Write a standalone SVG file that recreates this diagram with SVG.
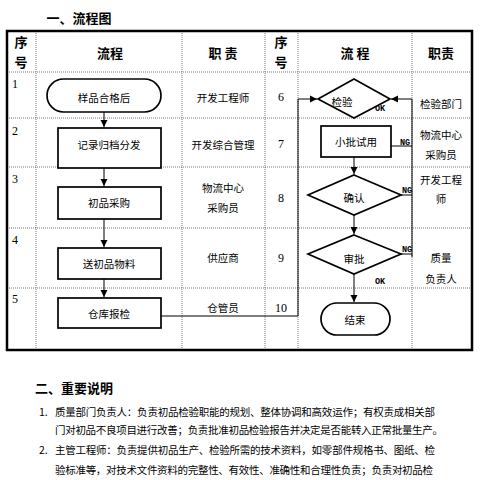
<svg xmlns="http://www.w3.org/2000/svg" width="480" height="480" viewBox="0 0 480 480">
<style>
.t{font-family:"Noto Sans CJK SC","Liberation Sans",sans-serif;font-size:10.5px;fill:#000;text-anchor:middle}
.h{font-family:"Noto Sans CJK SC","Liberation Sans",sans-serif;font-size:13px;font-weight:bold;fill:#000;text-anchor:middle}
.n{font-family:"Liberation Serif",serif;font-size:12px;fill:#000}
.s{font-family:"Liberation Mono",monospace;font-size:8.5px;font-weight:bold;fill:#000}
.p{font-family:"Noto Sans CJK SC","Liberation Sans",sans-serif;font-size:10.5px;fill:#000}
.grid{stroke:#555;stroke-width:0.8;stroke-dasharray:1 1;fill:none}
.box{fill:#fff;stroke:#000;stroke-width:1.7}
.c{fill:none;stroke:#000;stroke-width:1}
</style>
<defs>
<marker id="a" markerWidth="8" markerHeight="8" refX="7" refY="4" orient="auto" markerUnits="userSpaceOnUse">
<path d="M0,0.5 L7,4 L0,7.5 Z" fill="#000"/>
</marker>
</defs>
<rect width="480" height="480" fill="#fff"/>
<text class="h" x="79" y="23">一、流程图</text>
<g id="table">
<path class="grid" d="M36 31V350M182 31V350M265 31V350M298 31V350M412 31V350M7 72H472M7 118H472M7 167H472M7 228H472M7 288H472"/>
<rect x="7" y="31" width="465" height="319" fill="none" stroke="#000" stroke-width="2.5"/>
<text class="h" x="21" y="47">序</text>
<text class="h" x="21" y="67">号</text>
<text class="h" x="110" y="58">流程</text>
<text class="h" x="223" y="58">职 责</text>
<text class="h" x="281" y="47">序</text>
<text class="h" x="281" y="67">号</text>
<text class="h" x="355" y="58">流 程</text>
<text class="h" x="441" y="58">职责</text>
<text class="n" x="12" y="88">1</text>
<text class="n" x="12" y="135">2</text>
<text class="n" x="12" y="183">3</text>
<text class="n" x="12" y="244">4</text>
<text class="n" x="12" y="303">5</text>
<text class="n" x="281" y="101" text-anchor="middle">6</text>
<text class="n" x="281" y="148" text-anchor="middle">7</text>
<text class="n" x="281" y="202" text-anchor="middle">8</text>
<text class="n" x="281" y="262" text-anchor="middle">9</text>
<text class="n" x="281" y="312" text-anchor="middle">10</text>
<text class="t" x="223" y="102">开发工程师</text>
<text class="t" x="223" y="149">开发综合管理</text>
<text class="t" x="223" y="192">物流中心</text>
<text class="t" x="223" y="212">采购员</text>
<text class="t" x="223" y="262">供应商</text>
<text class="t" x="223" y="312">仓管员</text>
<text class="t" x="441" y="108">检验部门</text>
<text class="t" x="441" y="139">物流中心</text>
<text class="t" x="441" y="159">采购员</text>
<text class="t" x="441" y="184">开发工程</text>
<text class="t" x="441" y="203">师</text>
<text class="t" x="441" y="262">质量</text>
<text class="t" x="441" y="283">负责人</text>
</g>
<g id="connectors">
<path class="c" d="M104 112V127" marker-end="url(#a)"/>
<path class="c" d="M104 168V186" marker-end="url(#a)"/>
<path class="c" d="M104 219V247" marker-end="url(#a)"/>
<path class="c" d="M104 279V297" marker-end="url(#a)"/>
<path class="c" d="M161 316H298V99H317" marker-end="url(#a)"/>
<path class="c" d="M391 146H412M401 195H412M401 254H412"/>
<path class="c" d="M412 257V99H391" marker-end="url(#a)"/>
<path class="c" d="M354 157V174" marker-end="url(#a)"/>
<path class="c" d="M354 215V234" marker-end="url(#a)"/>
<path class="c" d="M354 274V302" marker-end="url(#a)"/>
<text class="s" x="375" y="111">OK</text>
<text class="s" x="400" y="145">NG</text>
<text class="s" x="402" y="193">NG</text>
<text class="s" x="402" y="252">NG</text>
<text class="s" x="375" y="284">OK</text>
</g>
<g id="n1"><rect class="box" x="47" y="79" width="114" height="33" rx="16.5"/><text class="t" x="104" y="102">样品合格后</text></g>
<g id="n2"><rect class="box" x="58" y="128" width="103" height="40"/><text class="t" x="109" y="149">记录归档分发</text></g>
<g id="n3"><rect class="box" x="58" y="187" width="103" height="32"/><text class="t" x="109" y="207">初品采购</text></g>
<g id="n4"><rect class="box" x="58" y="248" width="103" height="31"/><text class="t" x="109" y="268">送初品物料</text></g>
<g id="n5"><rect class="box" x="58" y="298" width="103" height="30"/><text class="t" x="109" y="318">仓库报检</text></g>
<g id="n6"><polygon class="box" points="354,79 390,99 354,118 318,99"/><text class="t" x="342" y="106">检验</text></g>
<g id="n7"><rect class="box" x="321" y="126" width="70" height="31"/><text class="t" x="356" y="146">小批试用</text></g>
<g id="n8"><polygon class="box" points="354,175 401,195 354,215 308,195"/><text class="t" x="354" y="202">确认</text></g>
<g id="n9"><polygon class="box" points="354,235 401,254 354,274 308,254"/><text class="t" x="354" y="263">审批</text></g>
<g id="n10"><rect class="box" x="321" y="303" width="69" height="32" rx="16"/><text class="t" x="355" y="324">结束</text></g>
<text class="h" x="35" y="393" style="text-anchor:start">二、重要说明</text>
<text class="p" x="39" y="416">1.</text>
<text class="p" x="55" y="416" textLength="380" lengthAdjust="spacing">质量部门负责人：负责初品检验职能的规划、整体协调和高效运作；有权责成相关部</text>
<text class="p" x="55" y="434" textLength="388" lengthAdjust="spacing">门对初品不良项目进行改善；负责批准初品检验报告并决定是否能转入正常批量生产。</text>
<text class="p" x="39" y="454">2.</text>
<text class="p" x="55" y="454" textLength="380" lengthAdjust="spacing">主管工程师：负责提供初品生产、检验所需的技术资料，如零部件规格书、图纸、检</text>
<text class="p" x="55" y="474" textLength="378" lengthAdjust="spacing">验标准等，对技术文件资料的完整性、有效性、准确性和合理性负责；负责对初品检</text>
</svg>
